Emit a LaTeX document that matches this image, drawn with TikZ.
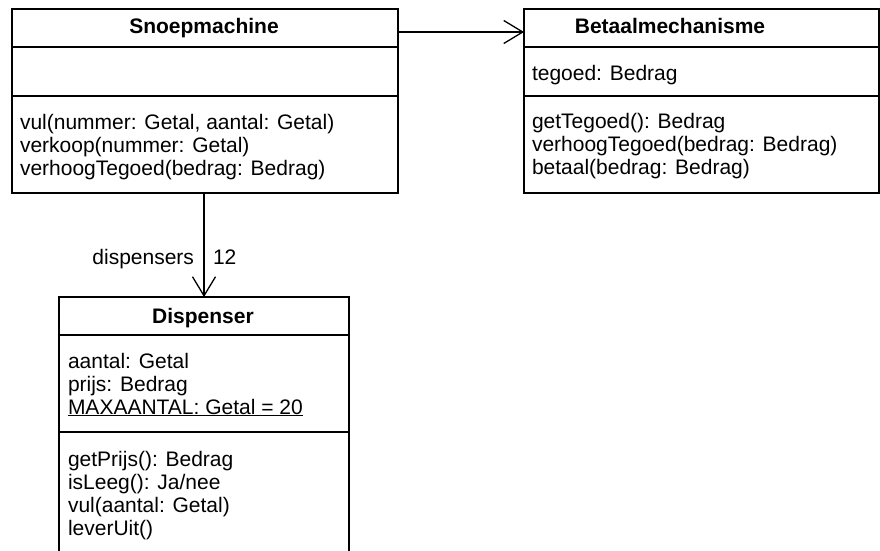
\documentclass[tikz,border=0pt]{standalone}
\usepackage{fontspec}
\setmainfont{Liberation Sans}
\usetikzlibrary{arrows.meta,calc}

\begin{document}
\begin{tikzpicture}[x=1pt,y=-1pt,
  every node/.style={inner sep=0pt,outer sep=0pt},
  classbox/.style={draw=black,line width=1.3pt,rectangle,anchor=north west},
  divider/.style={draw=black,line width=1.3pt},
  classtitle/.style={anchor=base,font=\fontsize{21}{23}\selectfont\bfseries},
  member/.style={anchor=base west,font=\fontsize{21}{23}\selectfont},
  assoc/.style={draw=black,line width=1.3pt,-{Straight Barb[length=19pt,width=23pt,line width=1.3pt]}},
]
\useasboundingbox (0,0) rectangle (880,551);
\clip (0,0) rectangle (880,551);
\fill[white] (0,0) rectangle (880,551);

% class boxes
\node[classbox,minimum width=386pt,minimum height=184pt] (snoep) at (12,9) {};
\node[classbox,minimum width=355pt,minimum height=184pt] (betaal) at (524,9) {};
\node[classbox,minimum width=290pt,minimum height=300pt] (disp) at (59,297) {};

% compartment dividers
\draw[divider] (snoep.west |- 0,47) -- (snoep.east |- 0,47);
\draw[divider] (snoep.west |- 0,96) -- (snoep.east |- 0,96);
\draw[divider] (betaal.west |- 0,47) -- (betaal.east |- 0,47);
\draw[divider] (betaal.west |- 0,96) -- (betaal.east |- 0,96);
\draw[divider] (disp.west |- 0,335) -- (disp.east |- 0,335);
\draw[divider] (disp.west |- 0,432) -- (disp.east |- 0,432);

% Snoepmachine
\node[classtitle] (snoepname) at (204,34) {Snoepmachine};
\node[member] (snoepm1) at (20,129) {vul(nummer: Getal, aantal: Getal)};
\node[member] (snoepm2) at (20,152) {verkoop(nummer: Getal)};
\node[member] (snoepm3) at (20,175) {verhoogTegoed(bedrag: Bedrag)};

% Betaalmechanisme
\node[classtitle] (betaalname) at (670,34) {Betaalmechanisme};
\node[member] (betaala1) at (532,81) {tegoed: Bedrag};
\node[member] (betaalm1) at (532,128) {getTegoed(): Bedrag};
\node[member] (betaalm2) at (532,151) {verhoogTegoed(bedrag: Bedrag)};
\node[member] (betaalm3) at (532,174) {betaal(bedrag: Bedrag)};

% Dispenser
\node[classtitle] (dispname) at (203,323) {Dispenser};
\node[member] (dispa1) at (68,368) {aantal: Getal};
\node[member] (dispa2) at (68,391) {prijs: Bedrag};
\node[member] (dispa3) at (68,414) {\underline{MAXAANTAL: Getal = 20}};
\node[member] (dispm1) at (68,466) {getPrijs(): Bedrag};
\node[member] (dispm2) at (68,489) {isLeeg(): Ja/nee};
\node[member] (dispm3) at (68,512) {vul(aantal: Getal)};
\node[member] (dispm4) at (68,535) {leverUit()};

% associations
\draw[assoc] ($(snoep.north east)+(0,23)$) -- ($(betaal.north west)+(0,23)$);
\draw[assoc] (snoep.south -| disp.north) -- (disp.north);
\node[member,anchor=base east] (rolename) at (194,264) {dispensers};
\node[member] (multiplicity) at (213,264) {12};
\end{tikzpicture}
\end{document}
